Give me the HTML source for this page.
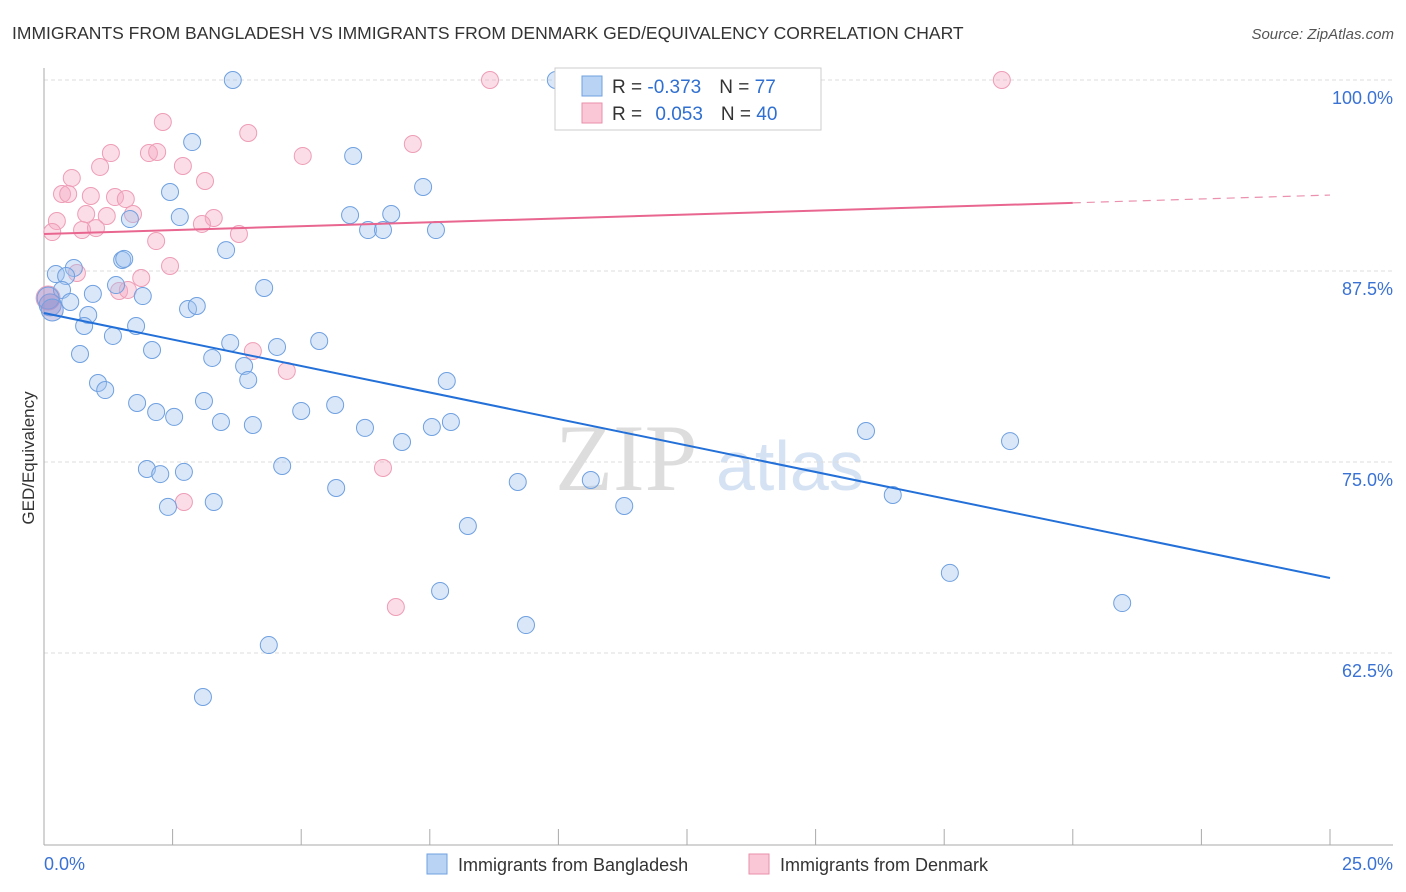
<!DOCTYPE html>
<html><head><meta charset="utf-8"><style>
body{margin:0;background:#fff;font-family:"Liberation Sans",sans-serif;}
svg{display:block}
</style></head><body>
<svg id="chart" width="1406" height="892" xmlns="http://www.w3.org/2000/svg">
<text x="12" y="39" font-size="17.5" fill="#333">IMMIGRANTS FROM BANGLADESH VS IMMIGRANTS FROM DENMARK GED/EQUIVALENCY CORRELATION CHART</text>
<text x="1394" y="39" font-size="15" fill="#555" font-style="italic" text-anchor="end">Source: ZipAtlas.com</text>
<text x="34" y="458" font-size="17" fill="#333" text-anchor="middle" transform="rotate(-90 34 458)">GED/Equivalency</text>
<text x="555" y="490" font-size="95" fill="#ddd" font-family="Liberation Serif,serif">ZIP</text>
<text x="716" y="490" font-size="70" fill="#d5e2f3">atlas</text>
<g id="grid"></g><g id="axes"></g><g id="pts"></g><g id="lines"></g>
<g>
<rect x="555" y="68" width="266" height="62" fill="#fff" stroke="#ccc"/>
<rect x="582" y="76" width="20" height="20" fill="#b9d3f5" stroke="#6fa0e0"/>
<rect x="582" y="103" width="20" height="20" fill="#f9c7d6" stroke="#ea8fab"/>
<text x="612" y="93" font-size="19" fill="#333">R = <tspan fill="#2f6fd0">-0.373</tspan><tspan dx="18">N = </tspan><tspan fill="#2f6fd0">77</tspan></text>
<text x="612" y="120" font-size="19" fill="#333">R = <tspan fill="#2f6fd0" dx="8">0.053</tspan><tspan dx="18">N = </tspan><tspan fill="#2f6fd0">40</tspan></text>
</g>
<g>
<rect x="427" y="854" width="20" height="20" fill="#b9d3f5" stroke="#6fa0e0"/>
<text x="458" y="871" font-size="18" fill="#333">Immigrants from Bangladesh</text>
<rect x="749" y="854" width="20" height="20" fill="#f9c7d6" stroke="#ea8fab"/>
<text x="780" y="871" font-size="18" fill="#333">Immigrants from Denmark</text>
</g>
</svg>
<script>
const bdX=[3.67,9.95,2.88,6.01,2.45,7.37,2.64,1.67,5.95,6.75,6.30,6.59,7.62,3.54,1.52,1.56,0.58,0.23,0.43,0.35,0.95,1.40,1.92,4.28,2.80,2.97,0.51,0.86,0.78,1.79,1.34,0.70,2.10,3.62,4.53,5.35,3.27,3.89,3.97,1.05,1.19,7.83,1.81,3.11,2.18,2.53,5.00,5.66,3.44,4.06,6.24,7.54,7.91,6.96,15.98,18.78,2.00,2.26,2.72,4.63,5.68,9.21,10.63,16.50,2.41,3.30,11.28,8.24,7.70,9.37,17.61,20.96,4.37,3.09,0.12,0.08,0.16];
const bdY=[100.0,100.0,95.94,95.03,92.67,93.0,91.03,90.9,91.16,91.23,90.18,90.18,90.18,88.87,88.22,88.29,87.70,87.30,87.17,86.26,86.0,86.58,85.86,86.39,85.01,85.21,85.47,84.62,83.90,83.90,83.25,82.07,82.33,82.79,82.53,82.92,81.81,81.28,80.37,80.17,79.71,80.30,78.86,78.99,78.27,77.95,78.34,78.73,77.62,77.42,77.23,77.29,77.62,76.31,77.03,76.37,74.54,74.21,74.35,74.74,73.30,73.69,73.82,72.84,72.06,72.38,72.12,70.81,66.56,64.33,67.74,65.77,63.02,59.62,85.28,85.73,84.95];
const dkX=[8.67,18.62,2.31,3.97,1.30,2.04,2.20,5.03,7.17,1.09,2.70,0.54,3.13,0.35,0.47,0.91,1.38,1.59,0.82,1.22,1.73,0.25,3.30,3.07,0.74,1.01,0.16,3.79,2.18,2.45,0.64,1.89,1.46,1.63,4.06,4.72,6.59,2.72,6.84,0.08];
const dkY=[100.0,100.0,97.25,96.53,95.22,95.22,95.29,95.03,95.81,94.31,94.37,93.59,93.39,92.54,92.54,92.41,92.34,92.21,91.23,91.10,91.23,90.77,90.97,90.58,90.18,90.31,90.05,89.92,89.46,87.83,87.37,87.04,86.19,86.26,82.26,80.96,74.61,72.38,65.51,85.73];
const yTicks=[100,87.5,75,62.5];
const yTickLabels=["100.0%","87.5%","75.0%","62.5%"];
const xTicks=[0,2.5,5,7.5,10,12.5,15,17.5,20,22.5,25];
const bdTrend=[84.75,67.41];
const dkTrend=[89.92,92.47];
const dkSolidEnd=20;
const X=v=>44+v*51.44, Y=v=>80+(100-v)*15.28;
const NS="http://www.w3.org/2000/svg";
function mk(p,t,a){const e=document.createElementNS(NS,t);for(const k in a)e.setAttribute(k,a[k]);document.getElementById(p).appendChild(e);return e;}
yTicks.forEach((v,i)=>{
 const l=mk('grid','line',{x1:44,x2:1393,y1:Y(v),y2:Y(v),stroke:'#ddd','stroke-dasharray':'4,3'});
 
 
 const t=mk('grid','text',{x:1393,y:Y(v)+24,'text-anchor':'end','font-size':18,fill:'#3a72d4'});
 t.textContent=yTickLabels[i];
 
 
});
let a=mk('axes','line',{x1:44,x2:44,y1:68,y2:845,stroke:'#aaa'});


a=mk('axes','line',{x1:44,x2:1393,y1:845,y2:845,stroke:'#aaa'});


xTicks.forEach(v=>{const t=mk('axes','line',{x1:X(v),x2:X(v),y1:829,y2:845,stroke:'#aaa'});
 
 });
let t=mk('axes','text',{x:44,y:870,'font-size':18,fill:'#3a72d4'});t.textContent="0.0%";


t=mk('axes','text',{x:1393,y:870,'font-size':18,fill:'#3a72d4','text-anchor':'end'});t.textContent="25.0%";


dkX.forEach((x,i)=>{const big=i===dkX.length-1;const c=mk('pts','circle',{cx:X(x),cy:Y(dkY[i]),r:big?12:8.5,fill:'rgba(246,170,195,0.4)',stroke:'#ee9db6','stroke-width':1});
 
 });
bdX.forEach((x,i)=>{const big=i>=bdX.length-3;const c=mk('pts','circle',{cx:X(x),cy:Y(bdY[i]),r:big?11:8.5,fill:big?'rgba(150,150,210,0.45)':'rgba(160,195,240,0.4)',stroke:'#6fa0e0','stroke-width':1});
 
 });
let L=mk('lines','line',{x1:X(0),y1:Y(bdTrend[0]),x2:X(25),y2:Y(bdTrend[1]),stroke:'#2370d9','stroke-width':2});


const dy=v=>dkTrend[0]+(dkTrend[1]-dkTrend[0])*v/25;
L=mk('lines','line',{x1:X(0),y1:Y(dkTrend[0]),x2:X(dkSolidEnd),y2:Y(dy(dkSolidEnd)),stroke:'#e8668f','stroke-width':2});


L=mk('lines','line',{x1:X(dkSolidEnd),y1:Y(dy(dkSolidEnd)),x2:X(25),y2:Y(dkTrend[1]),stroke:'#eb90ad','stroke-width':1.2,'stroke-dasharray':'8,6'});


</script>
</body></html>
